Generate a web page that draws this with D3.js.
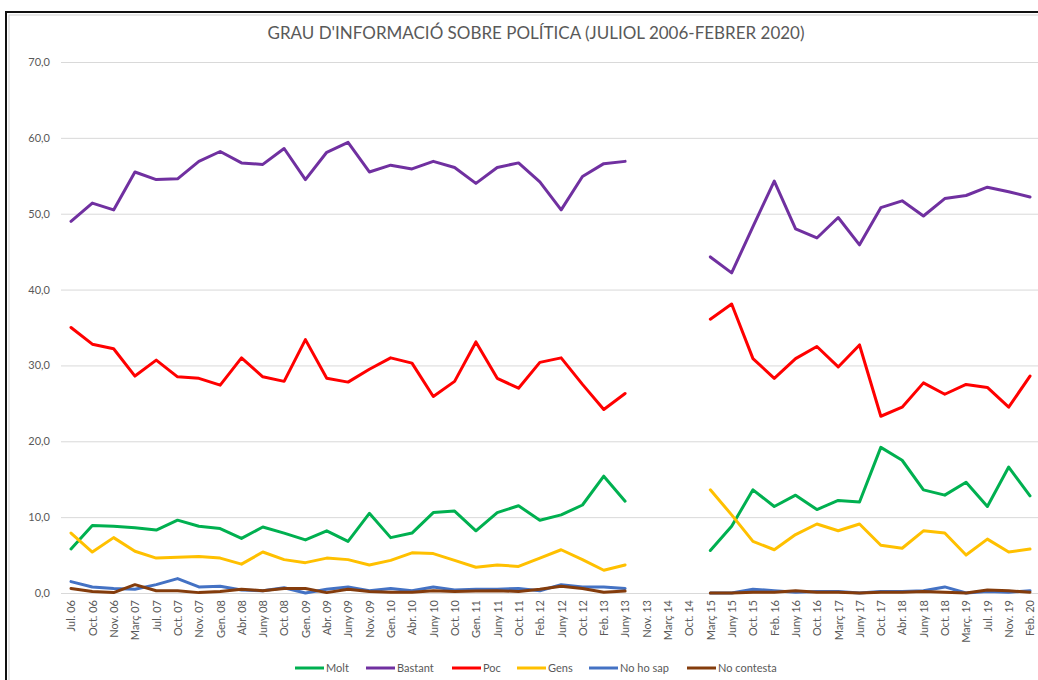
<!DOCTYPE html>
<html>
<head>
<meta charset="utf-8">
<script src="https://cdn.jsdelivr.net/npm/d3@7"></script>
<style>
  html, body { margin: 0; padding: 0; background: #fff; }
  svg { display: block; font-family: Lato, "Open Sans", sans-serif; }
</style>
</head>
<body>
<svg id="chart" width="1038" height="680"></svg>
<script>
// categories (survey waves); three waves have no data
const waves = ['Jul. 06', 'Oct. 06', 'Nov. 06', 'Març 07', 'Jul. 07', 'Oct. 07', 'Nov. 07', 'Gen. 08',
  'Abr. 08', 'Juny 08', 'Oct. 08', 'Gen. 09', 'Abr. 09', 'Juny 09', 'Nov. 09', 'Gen. 10', 'Abr. 10',
  'Juny 10', 'Oct. 10', 'Gen. 11', 'Juny 11', 'Oct. 11', 'Feb. 12', 'Juny 12', 'Oct. 12', 'Feb. 13',
  'Juny 13', 'Nov. 13', 'Març 14', 'Oct. 14', 'Març 15', 'Juny 15', 'Oct. 15', 'Feb. 16', 'Juny 16',
  'Oct. 16', 'Març 17', 'Juny 17', 'Oct. 17', 'Abr. 18', 'Juny 18', 'Oct. 18', 'Març. 19', 'Jul. 19',
  'Nov. 19', 'Feb. 20']

const molt = [5.8, 8.9, 8.8, 8.6, 8.3, 9.6, 8.8, 8.5, 7.2, 8.7, 7.9, 7.0, 8.2, 6.8, 10.5, 7.3, 7.9,
  10.6, 10.8, 8.2, 10.6, 11.5, 9.6, 10.3, 11.6, 15.4, 12.1, null, null, null,
  5.6, 8.8, 13.6, 11.4, 12.9, 11.0, 12.2, 12.0, 19.2, 17.5, 13.6, 12.9, 14.6, 11.4, 16.6, 12.8]
const bastant = [49.0, 51.4, 50.5, 55.5, 54.5, 54.6, 56.9, 58.2, 56.7, 56.5, 58.6, 54.5, 58.1, 59.4, 55.5,
  56.4, 55.9, 56.9, 56.1, 54.0, 56.1, 56.7, 54.2, 50.5, 54.9, 56.6, 56.9, null, null, null,
  44.3, 42.2, 48.3, 54.3, 48.0, 46.8, 49.5, 45.9, 50.8, 51.7, 49.7, 52.0, 52.4, 53.5, 52.9, 52.2]
const poc = [35.0, 32.8, 32.2, 28.6, 30.7, 28.5, 28.3, 27.4, 31.0, 28.5, 27.9, 33.4, 28.3, 27.8, 29.5,
  31.0, 30.3, 25.9, 27.9, 33.1, 28.3, 27.0, 30.4, 31.0, 27.5, 24.2, 26.3, null, null, null,
  36.1, 38.1, 30.9, 28.3, 30.9, 32.5, 29.8, 32.7, 23.3, 24.5, 27.7, 26.2, 27.5, 27.1, 24.5, 28.6]
const gens = [7.9, 5.4, 7.3, 5.5, 4.6, 4.7, 4.8, 4.6, 3.8, 5.4, 4.4, 4.0, 4.6, 4.4, 3.7, 4.3, 5.3,
  5.2, 4.3, 3.4, 3.7, 3.5, 4.6, 5.7, 4.4, 3.0, 3.7, null, null, null,
  13.6, 10.3, 6.8, 5.7, 7.7, 9.1, 8.2, 9.1, 6.3, 5.9, 8.2, 7.9, 5.0, 7.1, 5.4, 5.8]
const noHoSap = [1.5, 0.8, 0.6, 0.5, 1.1, 1.9, 0.8, 0.9, 0.4, 0.3, 0.7, 0.0, 0.5, 0.8, 0.3, 0.6, 0.3,
  0.8, 0.4, 0.5, 0.5, 0.6, 0.3, 1.1, 0.8, 0.8, 0.6, null, null, null,
  0.0, 0.0, 0.5, 0.3, 0.1, 0.2, 0.2, 0.0, 0.2, 0.2, 0.3, 0.8, 0.0, 0.2, 0.1, 0.3]
const noContesta = [0.6, 0.2, 0.05, 1.1, 0.3, 0.3, 0.05, 0.2, 0.5, 0.3, 0.6, 0.6, 0.05, 0.5, 0.2, 0.1,
  0.1, 0.3, 0.2, 0.25, 0.3, 0.2, 0.5, 0.9, 0.6, 0.1, 0.25, null, null, null,
  0.0, 0.0, 0.1, 0.1, 0.3, 0.1, 0.1, 0.0, 0.1, 0.1, 0.2, 0.1, 0.0, 0.4, 0.3, 0.1]

const seriesNames = ['Molt', 'Bastant', 'Poc', 'Gens', 'No ho sap', 'No contesta']
const seriesValues = [molt, bastant, poc, gens, noHoSap, noContesta]
const seriesColors = ['#00b050', '#7030a0', '#ff0000', '#ffc000', '#4472c4', '#843c0c']
const yTicks = [0, 10, 20, 30, 40, 50, 60, 70]

const svg = d3.select('#chart')
const grey = '#595959'

// outer frame (right and bottom edges fall outside the picture)
svg.append('rect')
  .attr('x', 6).attr('y', 12).attr('width', 1060).attr('height', 700)
  .attr('fill', 'none').attr('stroke', '#111').attr('stroke-width', 2)
svg.append('rect')
  .attr('x', 9).attr('y', 15).attr('width', 1060).attr('height', 700)
  .attr('fill', 'none').attr('stroke', '#d0d0d0').attr('stroke-width', 1)

svg.append('text')
  .attr('x', 536).attr('y', 39)
  .attr('text-anchor', 'middle')
  .attr('fill', grey)
  .style('font-size', '17px')
  .text("GRAU D'INFORMACIÓ SOBRE POLÍTICA (JULIOL 2006-FEBRER 2020)")

const x = d3.scalePoint().domain(waves).range([71, 1030])
const y = d3.scaleLinear().domain([0, 70]).range([593, 62])

const fmt = v => d3.format('.1f')(v).replace('.', ',')

// gridlines + y labels
const yAxis = svg.append('g')
  .attr('transform', 'translate(61,0)')
  .call(d3.axisLeft(y).tickValues(yTicks).tickFormat(fmt).tickSize(-1000).tickPadding(11))
yAxis.select('.domain').remove()
yAxis.selectAll('.tick line').attr('stroke', '#d9d9d9')
yAxis.selectAll('.tick text').attr('fill', grey).style('font-size', '11px')
  .style('font-family', 'Lato, sans-serif')

// x labels, rotated
const xAxis = svg.append('g')
  .attr('transform', 'translate(0,593)')
  .call(d3.axisBottom(x).tickSize(0).tickPadding(0))
xAxis.select('.domain').remove()
xAxis.selectAll('.tick text')
  .attr('fill', grey).style('font-size', '11px').style('font-family', 'Lato, sans-serif')
  .attr('text-anchor', 'end')
  .attr('transform', 'rotate(-90)')
  .attr('x', -7).attr('y', 0).attr('dy', '0.35em')

const line = d3.line()
  .defined(d => d.v !== null)
  .x(d => x(d.w))
  .y(d => y(d.v))

seriesValues.forEach((vals, i) => {
  svg.append('path')
    .datum(vals.map((v, j) => ({ w: waves[j], v })))
    .attr('fill', 'none')
    .attr('stroke', seriesColors[i])
    .attr('stroke-width', 3)
    .attr('stroke-linejoin', 'round')
    .attr('stroke-linecap', 'round')
    .attr('d', line)
})

// legend
const legendX = [295, 366, 452, 517, 589, 687]
const legend = svg.append('g').attr('transform', 'translate(0,668)')
seriesNames.forEach((name, i) => {
  legend.append('line')
    .attr('x1', legendX[i]).attr('x2', legendX[i] + 29)
    .attr('y1', 0).attr('y2', 0)
    .attr('stroke', seriesColors[i]).attr('stroke-width', 3)
  legend.append('text')
    .attr('x', legendX[i] + 31).attr('y', 4)
    .attr('fill', grey).style('font-size', '11px')
    .text(name)
})
</script>
</body>
</html>
